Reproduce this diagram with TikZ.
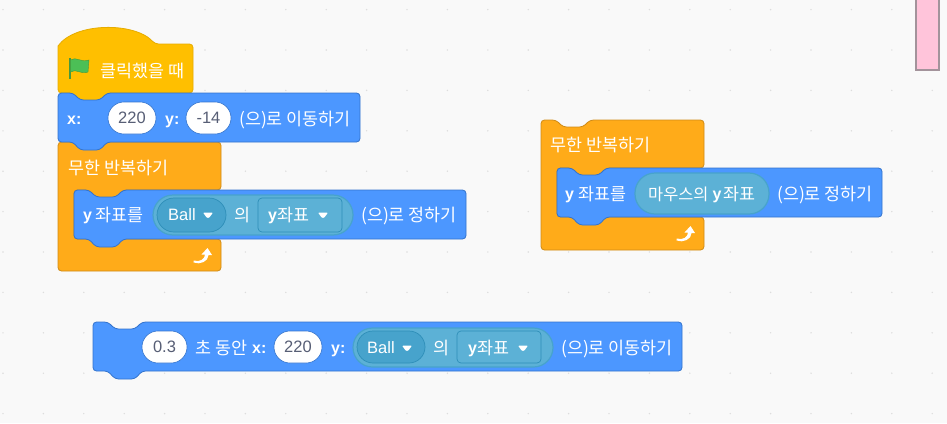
\documentclass[tikz,border=0pt]{standalone}
\usepackage{fontspec}
\setmainfont{Liberation Sans}
\newfontfamily\krf{Noto Sans CJK KR}
\definecolor{bgc}{HTML}{F9F9F9}
\definecolor{dotc}{HTML}{DDDDDD}
\definecolor{hatf}{HTML}{FFBF00}
\definecolor{hats}{HTML}{E6AC00}
\definecolor{motf}{HTML}{4C97FF}
\definecolor{mots}{HTML}{3373CC}
\definecolor{ctlf}{HTML}{FFAB19}
\definecolor{ctls}{HTML}{CF8B17}
\definecolor{senf}{HTML}{5CB1D6}
\definecolor{senm}{HTML}{47A3CC}
\definecolor{sens}{HTML}{2E8EB8}
\definecolor{inpt}{HTML}{575E75}
\definecolor{pinkf}{HTML}{FFC4DA}
\definecolor{pinks}{HTML}{A3939B}
\definecolor{flagf}{HTML}{4CBF56}
\definecolor{flags}{HTML}{45993D}
\tikzset{
  motion/.style={fill=motf,draw=mots,line width=0.8pt,rounded corners=3.5pt},
  control/.style={fill=ctlf,draw=ctls,line width=0.8pt,rounded corners=3.5pt},
  event/.style={fill=hatf,draw=hats,line width=0.8pt,rounded corners=3.5pt},
  lab/.style={anchor=base west,inner sep=0pt,yshift=-1pt,text=white,font=\fontsize{17.4}{20}\selectfont\krf},
  blab/.style={anchor=base west,inner sep=0pt,text=white,font=\fontsize{16}{18}\selectfont\bfseries},
  inp/.style={fill=white,draw=mots,line width=0.6pt,rounded corners=15.9pt},
  inptxt/.style={anchor=center,inner sep=0pt,text=inpt,font=\fontsize{16.5}{18}\selectfont},
  balltxt/.style={anchor=base west,inner sep=0pt,text=white,font=\fontsize{16.5}{18}\selectfont},
  rep/.style={fill=senf,draw=senm,line width=1.2pt},
  repin/.style={fill=senm,draw=sens,line width=0.7pt},
  sqin/.style={fill=senf,draw=sens,line width=0.7pt,rounded corners=4pt}
}
\newcommand\stackblk[5]{% style x1 x2 y1 y2
  \path[#1] (#2,#4) -- ({#2+15},#4) -- ({#2+22},{#4+7}) -- ({#2+42},{#4+7}) -- ({#2+49},#4)
    -- (#3,#4) -- (#3,#5) -- ({#2+49},#5) -- ({#2+42},{#5+8}) -- ({#2+22},{#5+8}) -- ({#2+15},#5)
    -- (#2,#5) -- cycle;}
\newcommand\foreverblk[7]{% x1 x2 y1 inner-top inner-bottom y2 inner-x
  \path[control] (#1,#3) -- ({#1+15},#3) -- ({#1+22},{#3+7}) -- ({#1+42},{#3+7}) -- ({#1+49},#3)
    -- (#2,#3) -- (#2,#4) -- ({#7+49},#4) -- ({#7+42},{#4+8}) -- ({#7+22},{#4+8}) -- ({#7+15},#4)
    -- (#7,#4) -- (#7,#5) -- (#2,#5) -- (#2,#6) -- (#1,#6) -- cycle;}
\newcommand\ddmark[2]{%
  \fill[white,rounded corners=1pt] ({#1-5},{#2-2.5}) -- ({#1+5},{#2-2.5}) -- ({#1+1.2},{#2+2.8}) -- ({#1-1.2},{#2+2.8}) -- cycle;}
\newcommand\loopmark[2]{%
  \fill[white] ({#1-9.5},{#2+4.5}) .. controls ({#1-3},{#2+6.5}) and ({#1+2},{#2+3}) .. ({#1+2},{#2-1.5})
    -- ({#1-1.5},{#2-1.5}) -- ({#1+4.5},{#2-8}) -- ({#1+9},{#2-1}) -- ({#1+5.5},{#2-1})
    .. controls ({#1+5.5},{#2+5.5}) and ({#1-3},{#2+9}) .. ({#1-9.5},{#2+6.5}) -- cycle;}
\begin{document}
\begin{tikzpicture}[x=1pt,y=-1pt]
\useasboundingbox (0,0) rectangle (947,423);
\fill[bgc] (0,0) rectangle (947,423);
\foreach \i in {0,...,23}\foreach \j in {0,...,10}
  \fill[dotc] ({3+40.4*\i},{9.6+40.4*\j}) circle (0.8pt);
% pink rectangle
\path[fill=pinkf,draw=pinks,line width=1.4pt] (916,-3) rectangle (939,70);
% hat
\path[event] (58,93) -- ({58+15},93) -- (80,101) -- (100,101) -- (107,93) -- (193,93) -- (193,44) -- (155,44)
  {[sharp corners] .. controls (135,22) and (75,22) .. (58,46)} -- cycle;
% left stack
\foreverblk{58}{221}{142}{190}{239}{271}{74}
\stackblk{motion}{58}{360}{93}{142}
\stackblk{motion}{74}{466}{190}{239}
% right stack
\foreverblk{541}{704}{120}{168}{217}{250}{557}
\stackblk{motion}{557}{882}{168}{217}
% bottom
\stackblk{motion}{93}{682}{322}{371}
% flag
\draw[draw=flags,line width=1.6pt] (70,58) -- (70,79);
\path[fill=flagf,draw=flags,line width=0.4pt] (70.5,60) .. controls (76,56) and (81,63) .. (89,60)
  -- (88,72) .. controls (81,75) and (76,68) .. (70.5,72) -- cycle;
\node[lab] (l1) at (100,76) {클릭했을 때};
% x y goto
\node[blab] (l2) at (67,124) {x:};
\path[inp] (108,102) rectangle (156,134);
\node[inptxt] (v1) at (132,118) {220};
\node[blab] (l3) at (165,124) {y:};
\path[inp] (186,102) rectangle (231,134);
\node[inptxt] (v2) at (208.5,118) {-14};
\node[lab] (l4) at (239,124) {(으)로 이동하기};
% forever left
\node[lab] (l5) at (68,173) {무한 반복하기};
\loopmark{203}{256}
% set y left
\node[blab] (l6) at (83,220) {y};
\node[lab] (l7) at (95,220) {좌표를};
\path[rep,rounded corners=20pt] (153,195) rectangle (353,235);
\path[repin,rounded corners=17pt] (157,198) rectangle (226,232);
\node[balltxt] (b1) at (168,220) {Ball};
\ddmark{208}{215}
\node[lab] (l8) at (234,220) {의};
\path[sqin] (258,198) rectangle (342,232);
\node[blab] (l9) at (268,220) {y};
\node[lab] (l10) at (277,220) {좌표};
\ddmark{323}{215}
\node[lab] (l11) at (361,220) {(으)로 정하기};
% forever right
\node[lab] (l12) at (550,150) {무한 반복하기};
\loopmark{686}{234}
\node[blab] (l13) at (565,199) {y};
\node[lab] (l14) at (578,199) {좌표를};
\path[rep,rounded corners=20pt] (635,173) rectangle (769,214);
\node[lab,font=\fontsize{16.4}{20}\selectfont\krf] (l15) at (648,199) {마우스의};
\node[blab] (l16) at (712.5,199) {y};
\node[lab] (l17) at (723,199) {좌표};
\node[lab] (l18) at (777,199) {(으)로 정하기};
% glide
\path[inp] (142,331) rectangle (187,363);
\node[inptxt] (v3) at (164.5,347) {0.3};
\node[lab] (l19) at (195,353) {초 동안};
\node[blab] (l20) at (252,353) {x:};
\path[inp] (274,331) rectangle (322,363);
\node[inptxt] (v4) at (298,347) {220};
\node[blab] (l21) at (331,353) {y:};
\path[rep,rounded corners=19.5pt] (353,328) rectangle (553,367);
\path[repin,rounded corners=16pt] (357,331) rectangle (425,363);
\node[balltxt] (b2) at (367,353) {Ball};
\ddmark{407}{348}
\node[lab] (l22) at (433,353) {의};
\path[sqin] (457,331) rectangle (541,363);
\node[blab] (l23) at (468,353) {y};
\node[lab] (l24) at (477,353) {좌표};
\ddmark{523}{348}
\node[lab] (l25) at (561,353) {(으)로 이동하기};
\end{tikzpicture}
\end{document}
